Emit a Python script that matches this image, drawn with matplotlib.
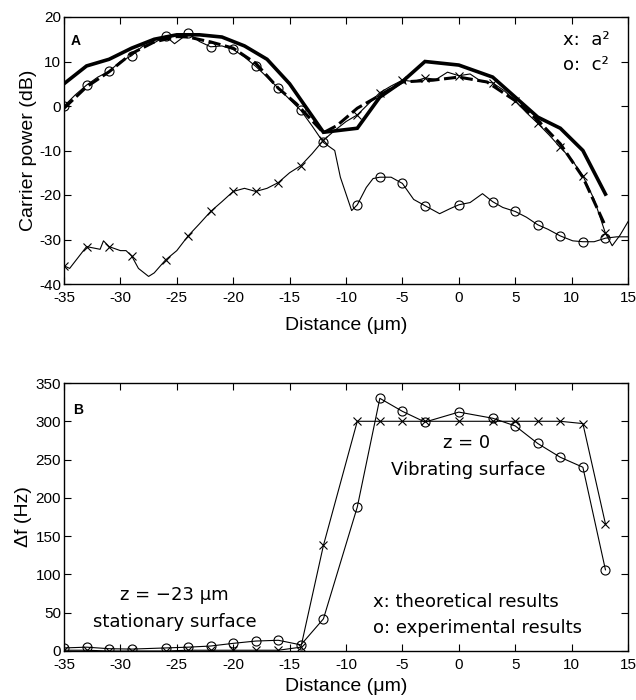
import matplotlib
matplotlib.use("Agg")
import matplotlib.pyplot as plt

# marker positions (um) shared by both panels
pos = [-35, -33, -31, -29, -26, -24, -22, -20, -18, -16, -14, -12,
       -9, -7, -5, -3, 0, 3, 5, 7, 9, 11, 13]

# panel A: theory curves
theory_a2_x = [-35, -33, -31, -29, -27, -25, -23, -21, -19, -17, -15, -12,
               -9, -7, -5, -3, 0, 3, 5, 7, 9, 11, 13]
theory_a2_y = [5, 9, 10.5, 13, 15, 16, 16, 15.5, 13.5, 10.5, 5, -5.9,
               -5, 2, 5.5, 10, 9.2, 6.5, 2, -2.5, -5, -10, -19.8]
theory_c2_x = [-35, -33, -31, -29, -27, -25, -24, -22, -20, -18, -16, -14.4,
               -12, -10.8, -9, -7, -5, -2.3, 0, 2.5, 5, 7, 9, 11, 13]
theory_c2_y = [-0.5, 4.3, 7.7, 11.8, 14.4, 15.6, 15.5, 14.4, 13, 9.6, 4, 0.5,
               -6, -4.4, -0.5, 2.4, 5.4, 5.8, 6.5, 5.4, 1.2, -3.2, -8.5, -16, -27]

# panel A: measured traces
meas_c2_x = [-35, -34, -33, -32, -31, -30, -29, -28, -27, -26, -25.2, -24, -23,
             -22, -21, -20, -19, -18, -17, -16, -15, -14, -13, -12, -11, -10.5,
             -9.5, -9, -8.2, -7.6, -7, -6, -5, -4, -3, -1.7, -0.8, 0, 1, 2.1, 3,
             3.9, 5, 6, 7, 7.9, 9, 10.1, 11, 12, 13, 14, 15]
meas_c2_y = [0, 2.5, 4.7, 6.5, 7.8, 10, 11.3, 13.5, 14.2, 15.7, 14, 16.3, 14.5,
             13.3, 13.5, 12.7, 11, 8.9, 6.5, 4, 1.5, -1, -4.5, -8.2, -10, -16,
             -23.5, -22.2, -18.3, -16.3, -16, -16, -17.4, -21, -22.4, -24.2, -23.1,
             -22.2, -21.7, -19.7, -21.5, -22.8, -23.7, -25, -26.7, -27.7, -29.2,
             -30.3, -30.5, -30.5, -29.7, -29.4, -29.4]
meas_a2_x = [-35, -34.5, -33, -31.8, -31.5, -31, -30, -29.5, -29, -28.4, -27.5,
             -27, -26, -25, -24, -23, -22, -21, -20, -19, -18, -17, -16, -15, -14,
             -13, -12, -11, -10, -9, -8, -7, -6, -5, -4, -3, -2, -1, 0, 1, 2, 3,
             4, 5, 6, 7, 8, 9, 10, 11, 12, 13, 13.6, 14.3, 15]
meas_a2_y = [-35.9, -36.5, -31.6, -32.2, -30.3, -31.6, -32.5, -32.5, -33.7, -36.5,
             -38.3, -37.5, -34.6, -32.5, -29.2, -26.5, -23.7, -21.5, -19.2, -18.5,
             -19.2, -18.5, -17.2, -15, -13.4, -10.7, -7.7, -5.5, -3.5, -2, 0.5, 3,
             4.5, 5.8, 5.5, 6.3, 6, 7.6, 6.8, 7.2, 5.5, 5.2, 3.5, 1.2, -1.5, -3.9,
             -6.5, -9.3, -12, -15.7, -21, -28.6, -31.4, -29, -26]
marker_c2 = [0, 4.7, 7.8, 11.3, 15.7, 16.3, 13.3, 12.7, 8.9, 4, -1, -8.2,
             -22.2, -16, -17.4, -22.4, -22.2, -21.5, -23.7, -26.7, -29.2, -30.5, -29.7]
marker_a2 = [-35.9, -31.6, -31.6, -33.7, -34.6, -29.2, -23.7, -19.2, -19.2, -17.2,
             -13.4, -7.7, -2, 3, 5.8, 6.3, 6.8, 5.2, 1.2, -3.9, -9.3, -15.7, -28.6]

# panel B: frequency shift (Hz)
df_theory = [1, 1, 0, 0, 0, 1, 1, 1, 1, 1, 5, 138,
             300, 300, 300, 300, 300, 300, 300, 300, 300, 297, 166]
df_exp = [4, 5, 3, 2.5, 4, 5, 6.5, 10, 13, 14, 8, 42,
          188, 330, 313, 299, 312, 304, 294, 271, 253, 240, 106]

x_ticks = [-35, -30, -25, -20, -15, -10, -5, 0, 5, 10, 15]

plt.rcParams["axes.unicode_minus"] = False
tick_font = ["Liberation Sans Narrow", "Liberation Sans", "DejaVu Sans"]
label_font = ["Liberation Sans", "DejaVu Sans"]
note_font = ["DejaVu Sans"]

fig = plt.figure(figsize=(6.36, 7.0), dpi=100)
ax1 = fig.add_axes([64 / 636, 1 - 284 / 700, 564 / 636, 267 / 700])
ax2 = fig.add_axes([64 / 636, 1 - 651 / 700, 564 / 636, 268 / 700])


def style_axes(ax):
    ax.tick_params(direction="in", top=True, right=True, length=5, width=0.8,
                   labelsize=11)
    ax.tick_params(axis="x", pad=5)
    ax.tick_params(axis="y", pad=2)
    for lab in ax.get_xticklabels() + ax.get_yticklabels():
        lab.set_family(tick_font)
    for sp in ax.spines.values():
        sp.set_linewidth(1.0)


# ---- panel A ----
ax1.plot(theory_a2_x, theory_a2_y, color="black", lw=2.6, solid_joinstyle="miter")
ax1.plot(theory_c2_x, theory_c2_y, color="black", lw=2.2, ls=(0, (4, 1.5)))
ax1.plot(meas_c2_x, meas_c2_y, color="black", lw=0.8)
ax1.plot(meas_a2_x, meas_a2_y, color="black", lw=0.8)
ax1.plot(pos, marker_c2, ls="none", marker="o", ms=6.5, mfc="none", mec="black", mew=0.8)
ax1.plot(pos, marker_a2, ls="none", marker="x", ms=5.5, color="black", mew=0.8)
ax1.set_xlim(-35, 15)
ax1.set_ylim(-40, 20)
ax1.set_xticks(x_ticks)
ax1.set_yticks([-40, -30, -20, -10, 0, 10, 20])
style_axes(ax1)
ax1.set_ylabel("Carrier power (dB)", fontsize=14, family=label_font)
ax1.set_xlabel("Distance (\u03bcm)", fontsize=14, family=label_font)
ax1.yaxis.set_label_coords(-0.047, 0.5)
ax1.xaxis.set_label_coords(0.5, -0.125)
ax1.text(-34.4, 14.6, "A", fontsize=10, fontweight="bold", family=label_font, va="center")
ax1.text(9.2, 14.8, "x:  a\u00b2", fontsize=13, family=note_font, va="center")
ax1.text(9.2, 9.2, "o:  c\u00b2", fontsize=13, family=note_font, va="center")

# ---- panel B ----
ax2.plot(pos, df_theory, color="black", lw=0.8, marker="x", ms=5.5, mew=0.8)
ax2.plot(pos, df_exp, color="black", lw=0.8, marker="o", ms=6.5, mfc="none", mew=0.8)
ax2.set_xlim(-35, 15)
ax2.set_ylim(0, 350)
ax2.set_xticks(x_ticks)
ax2.set_yticks([0, 50, 100, 150, 200, 250, 300, 350])
style_axes(ax2)
ax2.set_ylabel("\u0394f (Hz)", fontsize=14, family=label_font)
ax2.set_xlabel("Distance (\u03bcm)", fontsize=14, family=label_font)
ax2.yaxis.set_label_coords(-0.057, 0.5)
ax2.xaxis.set_label_coords(0.5, -0.1)
ax2.text(-34.2, 315, "B", fontsize=10, fontweight="bold", family=label_font, va="center")
ax2.text(0.7, 271, "z = 0", fontsize=13, family=note_font, ha="center", va="center")
ax2.text(0.8, 236, "Vibrating surface", fontsize=13, family=note_font, ha="center", va="center")
ax2.text(-25.2, 73, "z = \u221223 \u03bcm", fontsize=13, family=note_font, ha="center", va="center")
ax2.text(-25.2, 38, "stationary surface", fontsize=13, family=note_font, ha="center", va="center")
ax2.text(-7.6, 64, "x: theoretical results", fontsize=13, family=note_font, va="center")
ax2.text(-7.6, 30, "o: experimental results", fontsize=13, family=note_font, va="center")

fig.savefig("out.png", dpi=100)
